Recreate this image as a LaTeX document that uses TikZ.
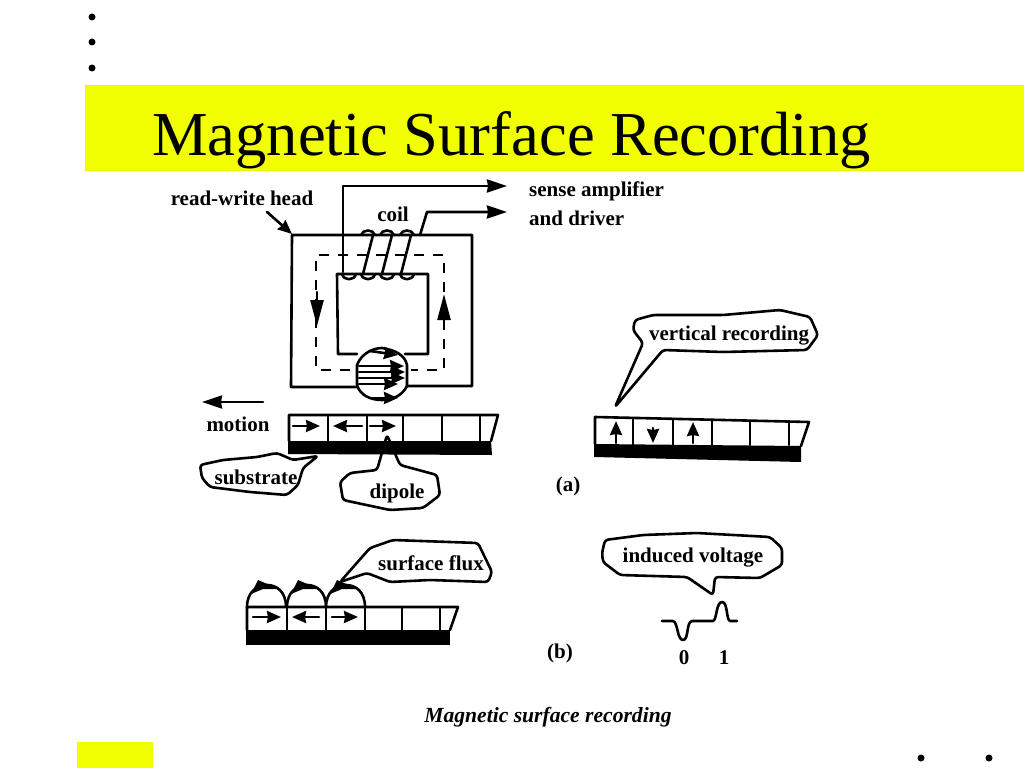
\documentclass[tikz,border=0pt]{standalone}
\usepackage{fontspec}
\setmainfont{Liberation Serif}
\usetikzlibrary{arrows.meta}

\tikzset{
    ink/.style={line width=2.6pt, line cap=round, line join=round},
    bubble/.style={ink, rounded corners=3pt},
    dashline/.style={ink, line cap=butt, dash pattern=on 10pt off 9pt},
    label/.style={font=\fontsize{21}{23}\selectfont\bfseries, inner sep=0pt},
    bigtip/.style={-{Stealth[length=20pt, width=13pt, inset=1pt]}},
    fluxtip/.style={-{Stealth[length=26pt, width=13pt, inset=0pt]}},
    smalltip/.style={-{Stealth[length=14pt, width=12pt, inset=1pt]}},
    dot/.style={circle, fill=black, inner sep=0pt, minimum size=7pt}
}

\begin{document}
\begin{tikzpicture}[x=1pt, y=-1pt, >=stealth]
    \useasboundingbox (0,0) rectangle (1024,768);
    \definecolor{band}{RGB}{241,255,0}

    % --- Slide frame ---
    \fill[band] (85,85) rectangle (1024,171);
    \fill[band] (77,742) rectangle (153,768);
    \foreach \y/\name in {17/a, 42/b, 68/c}
        \node[dot] (top\name) at (92,\y) {};
    \node[dot] (lowa) at (921,758) {};
    \node[dot] (lowb) at (989,758) {};
    \node[anchor=base west, inner sep=0pt, font=\fontsize{62.5}{66}\selectfont] (title) at (152,155) {Magnetic Surface Recording};

    % --- Read-write head ---
    % Outer and inner yoke, open at the gap
    \draw[ink] (357,387) -- (291,387) -- (292,235) -- (472,235) -- (472,386) -- (407,386);
    \draw[ink] (357,354) -- (338,354) -- (337,274) -- (428,274) -- (428,354) -- (405,354);
    % Flux path inside the yoke
    \draw[dashline] (350,370) -- (316,370) -- (316,255) -- (444,255) -- (444,370) -- (411,370);
    \draw[ink, fluxtip] (317,292) -- (317,326);
    \draw[ink, fluxtip] (444,328) -- (444,294);

    % Gap with its fringe field
    \draw[ink] (357,385) -- (357,365) .. controls (362,352) and (375,348) .. (382,348)
        .. controls (395,350) and (405,355) .. (407,365) -- (407,386)
        .. controls (402,396) and (392,400) .. (382,400) .. controls (370,400) and (360,395) .. (357,385);
    \foreach \y/\len in {366/404, 372/405, 378/405, 384/398}
        \draw[ink, smalltip] (359,\y) -- (\len,\y);
    \draw[ink, smalltip] (370,351) -- (398,355);
    \draw[ink, smalltip] (370,398) -- (398,398);

    % --- Coil ---
    \foreach \x in {349,368,387,407}
        \draw[ink] (\x-7,274) .. controls (\x-5,281) and (\x+5,281) .. (\x+7,274);
    \foreach \x in {368,387,407}
        \draw[ink] (\x-7,235) .. controls (\x-5,229) and (\x+5,229) .. (\x+7,235);
    \foreach \x in {363,382,401}
        \draw[ink] (\x,274) -- (\x+10,235);
    \coordinate (senseEnd) at (507,186);
    \coordinate (driverEnd) at (507,212);
    \draw[ink, bigtip] (343,272) -- (343,186) -- (senseEnd);
    \draw[ink, bigtip] (420,235) -- (427,212) -- (driverEnd);

    \node[label] (coil) at (393,214) {coil};
    \node[label, anchor=west] (amp) at (529,191) {sense amplifier};
    \node[label, anchor=west] (driver) at (529,218) {and driver};
    \node[label] (head) at (242,198) {read-write head};
    \coordinate (headTip) at (292,234);
    \draw[ink, smalltip] (267,212) -- (headTip);

    % --- Longitudinal strip ---
    \coordinate (motionEnd) at (202,402);
    \draw[ink, bigtip] (263,402) -- (motionEnd);
    \node[label] (motion) at (238,424) {motion};
    \draw[ink] (289,441) -- (289,415) -- (498,415) -- (491,441);
    \fill (288,441) -- (491,441) -- (492,455) -- (288,454) -- cycle;
    \foreach \x in {328,367,403,442,480}
        \draw[ink] (\x,415) -- (\x,441);
    \draw[ink, smalltip] (293,426) -- (320,426);
    \draw[ink, smalltip] (362,426) -- (333,426);
    \draw[ink, smalltip] (370,426) -- (396,426);

    % Callouts
    \draw[bubble] (200,465) -- (223,460) -- (257,457) -- (277,453) -- (293,460) -- (318,456)
        -- (303,468) -- (298,485) -- (287,495) -- (250,492) -- (210,487) -- (202,478) -- cycle;
    \node[label] (substrate) at (256,477) {substrate};
    \draw[bubble] (387,435) -- (400,465) -- (437,475) -- (440,495) -- (423,508) -- (390,510)
        -- (343,500) -- (340,482) -- (350,473) -- (377,470) -- cycle;
    \node[label] (dipole) at (397,493) {dipole};

    % --- Vertical strip ---
    \draw[ink] (595,444) -- (595,417) -- (809,422) -- (801,446);
    \fill (594,444) -- (801,446) -- (801,462) -- (594,457) -- cycle;
    \foreach \x/\t in {633/418,673/419,712/420,750/421,789/422}
        \draw[ink] (\x,\t) -- (\x,445);
    \draw[ink, smalltip] (616,443) -- (616,421);
    \draw[ink, smalltip] (653,428) -- (653,443);
    \draw[ink, smalltip] (693,443) -- (693,422);
    \draw[bubble] (615,407) -- (643,343) -- (633,330) -- (635,320) -- (653,315) -- (723,315)
        -- (780,310) -- (810,317) -- (818,335) -- (807,350) -- (723,352) -- (663,350) -- cycle;
    \node[label] (vertical) at (729,336) {vertical recording};
    \node[label] (parta) at (568,486) {(a)};

    % --- Surface flux strip ---
    \draw[ink] (247,630) -- (247,607) -- (458,607) -- (450,630);
    \fill (246,630) -- (450,630) -- (450,645) -- (246,645) -- cycle;
    \foreach \x in {287,326,365,402,440}
        \draw[ink] (\x,607) -- (\x,630);
    \foreach \x in {247,287,326} {
        \draw[ink] (\x,607) .. controls (\x,592) and (\x+10,585) .. (\x+20,585)
            .. controls (\x+30,585) and (\x+39,592) .. (\x+39,607);
        \fill (\x+4,594) -- (\x+11,580) -- (\x+32,589) -- (\x+16,589) -- cycle;
    }
    \draw[ink, smalltip] (253,617) -- (281,617);
    \draw[ink, smalltip] (319,617) -- (292,617);
    \draw[ink, smalltip] (332,617) -- (358,617);
    \draw[bubble] (340,582) -- (370,548) -- (393,540) -- (478,543) -- (492,572) -- (488,582)
        -- (430,580) -- (390,582) -- (367,573) -- cycle;
    \node[label] (flux) at (431,563) {surface flux};

    % --- Induced voltage ---
    \draw[bubble] (605,540) -- (643,535) -- (697,533) -- (770,537) -- (782,548) -- (782,565)
        -- (760,578) -- (715,577) -- (713,595) -- (687,577) -- (620,575) -- (603,562) -- (602,553) -- cycle;
    \node[label] (induced) at (693,558) {induced voltage};
    \draw[ink] (662,621) -- (673,621) .. controls (678,622) and (677,640) .. (683,640)
        .. controls (689,640) and (686,622) .. (692,621) -- (713,621)
        .. controls (717,620) and (716,602) .. (722,602)
        .. controls (728,602) and (726,620) .. (730,621) -- (737,621);
    \node[label] (zero) at (684,658) {0};
    \node[label] (one) at (724,658) {1};
    \node[label] (partb) at (560,653) {(b)};

    % --- Caption ---
    \node[inner sep=0pt, font=\fontsize{21.6}{24}\selectfont\bfseries\itshape] (caption) at (548,717) {Magnetic surface recording};
\end{tikzpicture}
\end{document}
